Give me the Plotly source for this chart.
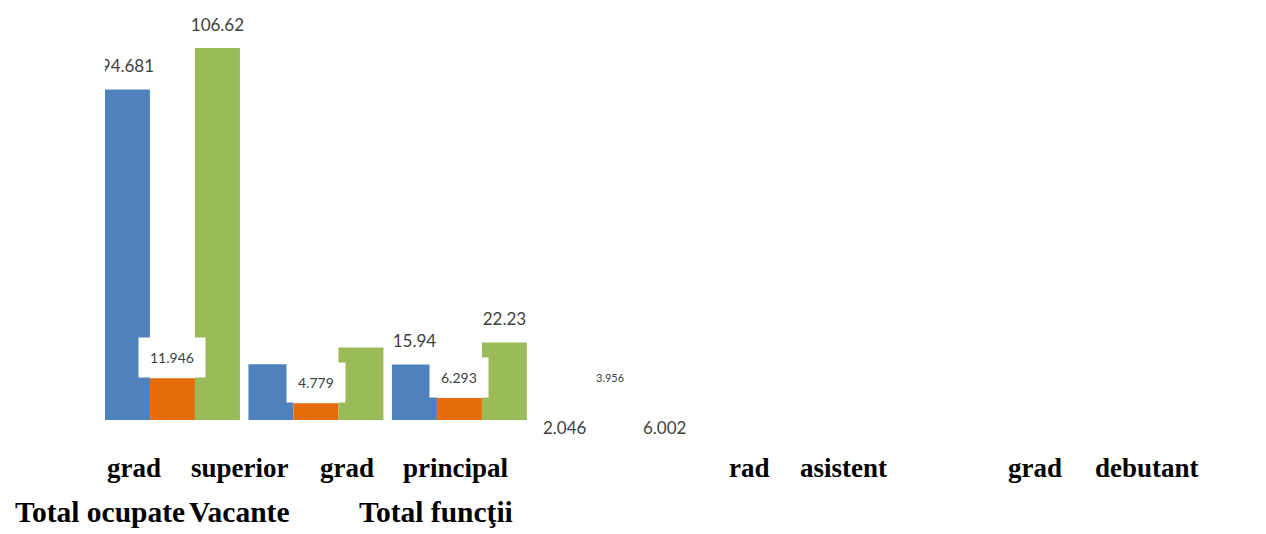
import plotly.graph_objects as go

# Functii publice pe grade profesionale (mii)
categories = ["grad superior", "grad principal", "rad asistent", "grad debutant"]
total_ocupate = [94.681, 16.0, 15.94, 2.046]
vacante = [11.946, 4.779, 6.293, 3.956]
total_functii = [106.62, 20.78, 22.23, 6.002]

# which values carry a printed label above the bar
label_ocupate = [True, False, True, False]
label_functii = [True, False, True, False]

series_names = ["Total ocupate", "Vacante", "Total funcţii"]
colors = ["#4F81BD", "#E46C0A", "#9BBB59"]

W, H = 1266, 534
M_L, M_R, M_T, M_B = 105, 546, 10, 114
PLOT_W = W - M_L - M_R

LABEL_FONT = dict(family="Lato, Open Sans, sans-serif", size=17, color="#404040")
CAPTION_FONT = dict(family="Liberation Serif, Times New Roman, serif", size=27, color="#000000")
SERIES_FONT = dict(CAPTION_FONT, size=29.5)
BARGAP = 0.0592


def fmt(v):
    return f"{v:g}"


def bar_colors(color, n):
    # the last group is rendered without visible fill
    return [color] * (n - 1) + ["rgba(0,0,0,0)"]


fig = go.Figure()
n = len(categories)
for name, vals, col in zip(series_names, [total_ocupate, vacante, total_functii], colors):
    fig.add_trace(go.Bar(
        name=name, x=categories, y=vals,
        marker=dict(color=bar_colors(col, n), line=dict(width=0)),
        hoverinfo="skip",
    ))

# value labels above the bars, grouped like the bars and clipped to the plot area
label_sets = [
    [fmt(v) if s else "" for v, s in zip(total_ocupate, label_ocupate)],
    [""] * n,
    [fmt(v) if s else "" for v, s in zip(total_functii, label_functii)],
]
for name, vals, labels in zip(series_names, [total_ocupate, vacante, total_functii], label_sets):
    fig.add_trace(go.Scatter(
        name=name, x=categories, y=vals, text=labels,
        mode="markers+text", textposition="top center",
        marker=dict(size=19, color="rgba(0,0,0,0)"),
        textfont=LABEL_FONT, cliponaxis=True, hoverinfo="skip",
    ))

annotations = []
# boxed labels above the "Vacante" bars
for cat, v in zip(categories[:-1], vacante[:-1]):
    annotations.append(dict(
        x=cat, y=v, xref="x", yref="y", text=fmt(v), showarrow=False,
        yanchor="bottom", bgcolor="#ffffff", borderpad=11,
        font=dict(LABEL_FONT, size=14),
    ))

# labels of the last group, set near the baseline
last = categories[-1]
annotations += [
    dict(x=last, y=0, text=fmt(total_ocupate[-1]), xshift=-38, yshift=-7,
         font=dict(LABEL_FONT, size=17)),
    dict(x=last, y=0, text=fmt(vacante[-1]), xshift=7, yshift=43,
         font=dict(LABEL_FONT, size=11)),
    dict(x=last, y=0, text=fmt(total_functii[-1]), xshift=62, yshift=-7,
         font=dict(LABEL_FONT, size=17)),
]
for a in annotations[-3:]:
    a.update(xref="x", yref="y", showarrow=False, yanchor="middle")


def px_to_paper(px):
    return (px - M_L) / PLOT_W


def py_to_paper(py):
    return (H - M_B - py) / (H - M_T - M_B)


# category captions under the chart (justified line) and the series line
caption_words = [
    ("grad", 105), ("superior", 189), ("grad", 318), ("principal", 401),
    ("rad", 727), ("asistent", 798), ("grad", 1006), ("debutant", 1093),
]
for word, px in caption_words:
    annotations.append(dict(
        x=px_to_paper(px), y=py_to_paper(468), xref="paper", yref="paper",
        text=f"<b>{word}</b>", showarrow=False, xanchor="left", yanchor="middle",
        font=CAPTION_FONT,
    ))

legend_words = [("Total ocupate", 13), ("Vacante", 187), ("Total funcţii", 357)]
for word, px in legend_words:
    annotations.append(dict(
        x=px_to_paper(px), y=py_to_paper(512), xref="paper", yref="paper",
        text=f"<b>{word}</b>", showarrow=False, xanchor="left", yanchor="middle",
        font=SERIES_FONT,
    ))

fig.update_layout(
    width=W, height=H,
    margin=dict(l=M_L, r=M_R, t=M_T, b=M_B),
    paper_bgcolor="#ffffff", plot_bgcolor="#ffffff",
    barmode="group", bargap=BARGAP, bargroupgap=0,
    scattermode="group", scattergap=BARGAP,
    showlegend=False,
    annotations=annotations,
    xaxis=dict(range=[-0.47, 3.816], showticklabels=False, showgrid=False,
               zeroline=False, showline=False, ticks=""),
    yaxis=dict(range=[0, 117.5], showticklabels=False, showgrid=False,
               zeroline=False, showline=False, ticks=""),
)

fig.write_html("out.html")
